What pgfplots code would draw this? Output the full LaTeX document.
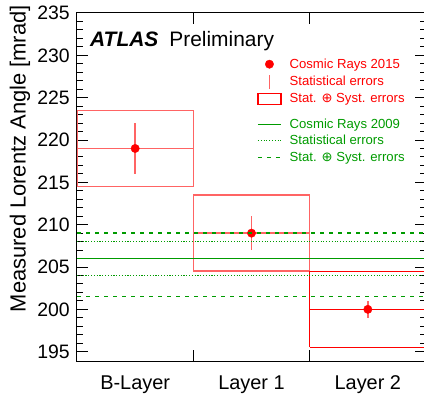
\documentclass[border=0pt]{standalone}
\usepackage{fontspec}
\setmainfont{Liberation Sans}
\newfontfamily\dejavu{DejaVu Sans}
\usepackage{pgfplots}
\pgfplotsset{compat=1.18}
\definecolor{boxred}{RGB}{255,100,100}
\definecolor{gr}{RGB}{0,155,0}

\begin{document}
\begin{tikzpicture}
\pgfplotsset{
  common/.style={
    scale only axis, width=349bp, height=348bp,
    xmin=0, xmax=3, ymin=193.9, ymax=235,
  },
  mylegend/.style={
    legend cell align=left,
    legend style={draw=none, fill=none, inner sep=0pt, anchor=north west,
      row sep=2.6bp, column sep=8bp,
      font=\fontsize{13.2}{15}\selectfont,
      nodes={inner sep=0pt, text height=11bp, text depth=3bp}},
  },
}
\begin{axis}[common, mylegend,
  legend style={at={(axis description cs:0.516,0.8736)}, text=red},
  axis line style={line width=1bp},
  tick style={black, line width=1bp},
  major tick length=11bp, minor tick length=6bp,
  xtick={1,2}, xticklabels={},
  extra x ticks={0.5,1.5,2.5},
  extra x tick labels={B-Layer,Layer 1,Layer 2},
  extra x tick style={major tick length=0pt,
    tick label style={font=\fontsize{20}{24}\selectfont, inner sep=0pt, text depth=0pt, yshift=-14.2bp}},
  ytick={195,200,...,235},
  minor y tick num=4,
  yticklabel style={font=\fontsize{19.5}{22}\selectfont, inner sep=0pt, xshift=-7bp},
  /pgf/number format/assume math mode=true,
  ylabel={Measured Lorentz Angle [mrad]},
  every axis y label/.style={at={(axis description cs:-0.147,1.023)}, rotate=90,
    anchor=base east, font=\fontsize{22}{26}\selectfont, inner sep=0pt},
]
% systematic boxes (Cosmic Rays 2015)
\addplot[boxred, line width=1.5bp, forget plot] coordinates {(0,214.5) (1,214.5) (1,223.5) (0,223.5) (0,214.5)};
\addplot[boxred, line width=1.5bp, forget plot] coordinates {(1,204.5) (2,204.5) (2,213.5) (1,213.5) (1,204.5)};
\addplot[red, line width=1.2bp, forget plot] coordinates {(2,195.5) (3,195.5) (3,204.5) (2,204.5) (2,195.5)};
% central values across bins
\addplot[boxred, line width=1.5bp, forget plot] coordinates {(0,219) (1,219)};
\addplot[boxred, line width=1.5bp, forget plot] coordinates {(1,209) (2,209)};
\addplot[red, line width=1.2bp, forget plot] coordinates {(2,200) (3,200)};
% points with statistical errors
\addplot[only marks, mark=*, mark size=4.2bp, mark options={fill=red, draw=red}, forget plot,
  error bars/.cd, y dir=both, y explicit, error mark=none,
  error bar style={boxred, line width=1.5bp}]
  table[x=x, y=y, y error=e] {
x y e
0.5 219 3
1.5 209 2
2.5 200 1
};
\addlegendimage{legend image code/.code={\path[draw=none,fill=none] (0bp,0bp) -- (23bp,0bp); \fill[red] (11.5bp,0bp) circle (4.2bp);}}
\addlegendentry{Cosmic Rays 2015}
\addlegendimage{legend image code/.code={\path[draw=none,fill=none] (0bp,0bp) -- (23bp,0bp); \draw[boxred, line width=1.5bp] (11.5bp,-7bp) -- (11.5bp,7bp);}}
\addlegendentry{Statistical errors}
\addlegendimage{legend image code/.code={\draw[red, line width=1.3bp, fill=none] (0bp,-5.3bp) rectangle (23bp,5.3bp);}}
\addlegendentry{Stat. {\dejavu ⊕} Syst. errors}
\node[anchor=base west, inner sep=0pt, font=\fontsize{21}{25}\selectfont]
  at (axis description cs:0.0372,0.9032) {\textbf{\textit{ATLAS}}\hspace{11bp}Preliminary};
\end{axis}
\begin{axis}[common, hide axis, mylegend,
  legend style={at={(axis description cs:0.516,0.701)}, text=gr},
  legend image code/.code={\draw[#1] (0bp,0bp) -- (23bp,0bp);},
]
\addplot[gr, line width=1.4bp] coordinates {(0,206) (3,206)};
\addlegendentry{Cosmic Rays 2009}
\addplot[gr, line width=1.2bp, dash pattern=on 1.1bp off 1.7bp] coordinates {(0,208) (3,208)};
\addlegendentry{Statistical errors}
\addplot[gr, line width=1.4bp, dash pattern=on 4.3bp off 4.7bp] coordinates {(0,209) (3,209)};
\addlegendentry{Stat. {\dejavu ⊕} Syst. errors}
\addplot[gr, line width=1.2bp, dash pattern=on 1.1bp off 1.7bp, forget plot] coordinates {(0,204) (3,204)};
\addplot[gr, line width=1.4bp, dash pattern=on 4.3bp off 4.7bp, forget plot] coordinates {(0,201.5) (3,201.5)};
\end{axis}
\pgfresetboundingbox
\path[use as bounding box] ([xshift=-77bp,yshift=-35bp]current axis.south west) rectangle ([xshift=-2bp,yshift=13bp]current axis.north east);
\end{tikzpicture}
\end{document}
